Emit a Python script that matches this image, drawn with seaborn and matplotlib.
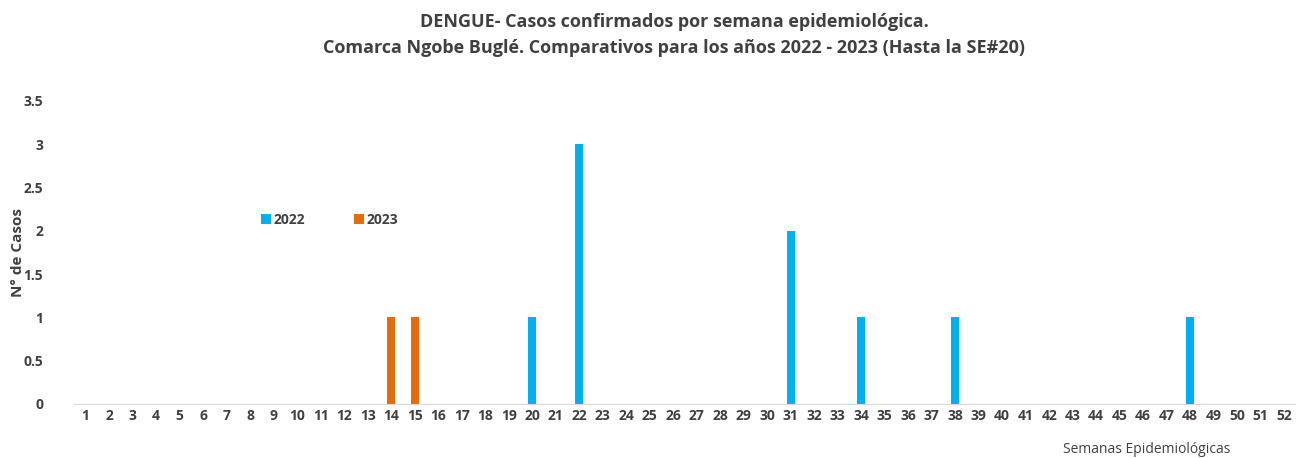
import numpy as np
import pandas as pd
import matplotlib
matplotlib.use("Agg")
import matplotlib.pyplot as plt
import seaborn as sns

semanas = list(range(1, 53))
semanas_2022 = [20, 22, 31, 34, 38, 48]
casos_2022 = [1, 3, 2, 1, 1, 1]
semanas_2023 = [14, 15]
casos_2023 = [1, 1]
anios = ["2022", "2023"]
colores = ["#00B0F0", "#E46C0A"]

filas = []
for s in semanas:
    c22 = casos_2022[semanas_2022.index(s)] if s in semanas_2022 else 0
    c23 = casos_2023[semanas_2023.index(s)] if s in semanas_2023 else 0
    filas.append({"semana": str(s), "anio": "2022", "casos": c22})
    filas.append({"semana": str(s), "anio": "2023", "casos": c23})
df = pd.DataFrame(filas)

sns.set_style("white")
plt.rcParams['font.family'] = ['Open Sans', 'DejaVu Sans']

fig = plt.figure(figsize=(12.96, 4.58), dpi=100)
ax = fig.add_axes([0.057, 0.118, 0.943, 0.662])

sns.barplot(data=df, x="semana", y="casos", hue="anio", hue_order=anios,
            palette=colores, saturation=1, dodge=False, width=0.35,
            linewidth=0, ax=ax, legend=True)

ax.set_ylim(0, 3.5)
ax.set_xlim(-0.5, 51.5)
ax.set_yticks(np.arange(0, 3.51, 0.5))
ax.set_yticklabels(["0", "0.5", "1", "1.5", "2", "2.5", "3", "3.5"])
for sp in ["top", "right", "left"]:
    ax.spines[sp].set_visible(False)
ax.spines["bottom"].set_color("#d9d9d9")
ax.tick_params(axis="both", length=0, labelsize=10, colors="#404040")
ax.tick_params(axis="y", pad=22)
for t in ax.get_xticklabels() + ax.get_yticklabels():
    t.set_fontweight("bold")

ax.set_ylabel("N° de Casos", fontsize=11, fontweight="bold", color="#404040")
ax.yaxis.set_label_coords(-0.04, 0.5)
ax.set_xlabel("Semanas Epidemiológicas", fontsize=10, color="#404040")
ax.xaxis.set_label_coords(0.878, -0.125)

ax.legend(title=None, loc="upper left", bbox_to_anchor=(0.143, 0.672), ncol=2,
          frameon=False, handlelength=0.7, handleheight=0.7, handletextpad=0.2,
          columnspacing=3.5, prop={"weight": "bold", "size": 10})
for t in ax.get_legend().get_texts():
    t.set_color("#404040")

fig.suptitle("DENGUE- Casos confirmados por semana epidemiológica.\n"
             "Comarca Ngobe Buglé. Comparativos para los años 2022 - 2023 (Hasta la SE#20)",
             x=0.52, y=0.972, fontsize=13, fontweight="bold", color="#404040",
             linespacing=1.6)

fig.savefig("out.png", dpi=100)
